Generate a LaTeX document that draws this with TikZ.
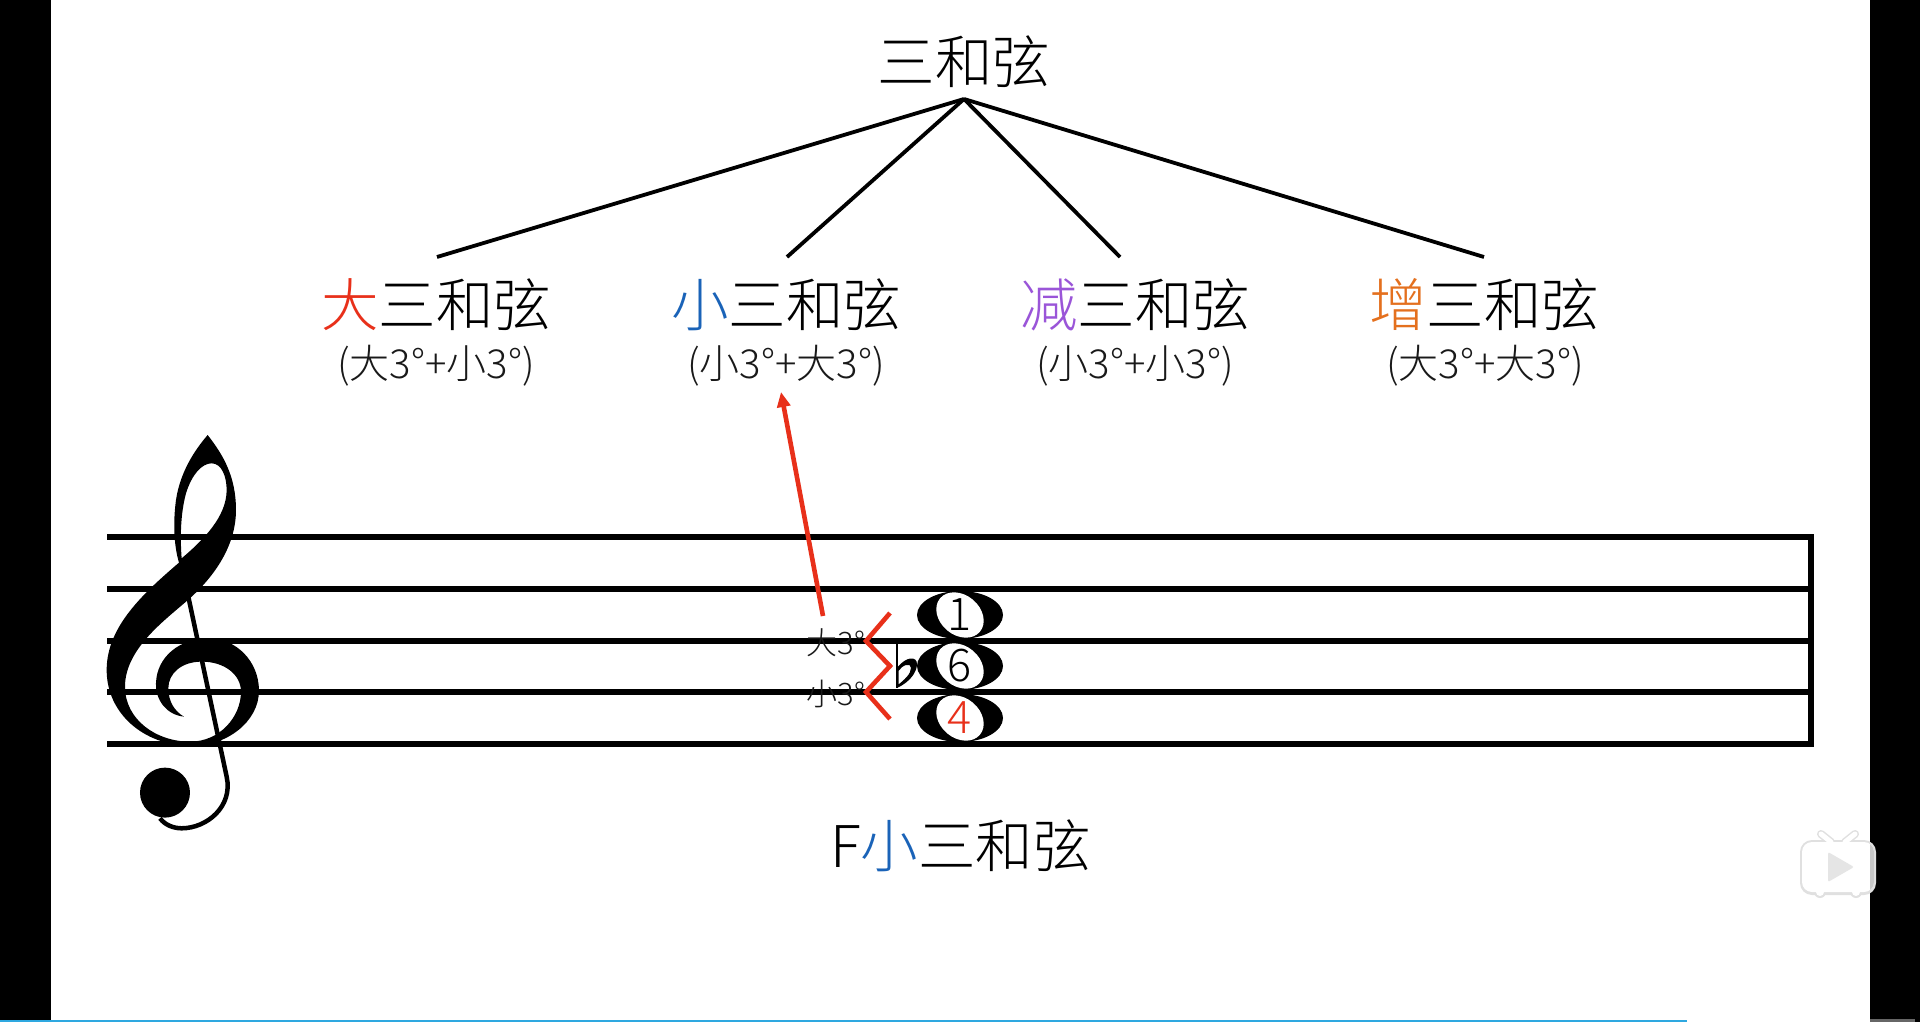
\documentclass[tikz,border=0pt]{standalone}
\usepackage{fontspec}
\setmainfont{Noto Sans CJK SC}[UprightFont={* Light}]
\usetikzlibrary{arrows.meta}
\definecolor{mred}{HTML}{E8301A}
\definecolor{mblue}{HTML}{1A63B8}
\definecolor{mpurple}{HTML}{9A55D8}
\definecolor{morange}{HTML}{E4701E}
\definecolor{cyanbar}{HTML}{2EA8E0}
\tikzset{
 big/.style={inner sep=0pt,font=\fontsize{57.5}{60}\selectfont},
 small/.style={inner sep=0pt,text=black!90,font=\fontsize{40}{44}\selectfont},
 tiny/.style={inner sep=0pt,text=black!90,font=\fontsize{31}{35}\selectfont},
 digit/.style={inner sep=0pt,font=\fontsize{45}{49}\selectfont},
 branch/.style={line width=3.8pt,black},
 staffline/.style={line width=5.5pt,black},
 redline/.style={line width=4.6pt,mred},
}
\newcommand{\notehead}[2]{%
 \fill[black] (#1,#2) ellipse [x radius=43,y radius=24];
 \fill[white,rotate around={-40:(#1,#2)}] (#1,#2) ellipse [x radius=26,y radius=20];
}
\begin{document}
\begin{tikzpicture}[x=1pt,y=-1pt]
\useasboundingbox (0,0) rectangle (1920,1022);
\fill[white] (0,0) rectangle (1920,1022);
\fill[black] (0,0) rectangle (51,1022);
\fill[black] (1870,0) rectangle (1920,1022);
\fill[black!60] (1870,1019) rectangle (1915,1022);
\fill[cyanbar] (0,1019.5) rectangle (1687,1022);
% staff
\coordinate (s1l) at (107,537); \coordinate (s1r) at (1811,537);
\coordinate (s2l) at (107,589); \coordinate (s2r) at (1811,589);
\coordinate (s3l) at (107,641); \coordinate (s3r) at (1811,641);
\coordinate (s4l) at (107,692); \coordinate (s4r) at (1811,692);
\coordinate (s5l) at (107,744); \coordinate (s5r) at (1811,744);
\foreach \i in {1,...,5}{\draw[staffline] (s\i l) -- (s\i r);}
\draw[line width=5.5pt,line cap=rect] (s1r) -- (s5r);
% clef
\begin{scope}[shift={(80,420)},x=0.3333pt,y=-0.3333pt]
 \fill[black,even odd rule]
  (383,45) .. controls (430,105) and (468,170) .. (468,270)
  .. controls (468,380) and (400,470) .. (335,530)
  .. controls (270,590) and (135,680) .. (135,800)
  .. controls (135,900) and (230,965) .. (330,965)
  .. controls (420,965) and (483,890) .. (483,815)
  .. controls (483,765) and (435,725) .. (365,725)
  .. controls (305,725) and (265,760) .. (265,805)
  .. controls (265,845) and (285,875) .. (312,890)
  .. controls (260,885) and (226,840) .. (228,790)
  .. controls (230,710) and (300,655) .. (385,655)
  .. controls (470,655) and (537,725) .. (537,812)
  .. controls (537,905) and (440,980) .. (330,978)
  .. controls (190,975) and (80,880) .. (80,750)
  .. controls (80,620) and (190,520) .. (297,428)
  .. controls (280,370) and (280,300) .. (288,240)
  .. controls (300,160) and (340,95) .. (383,45) -- cycle
  (305,415) .. controls (300,350) and (302,280) .. (318,220)
  .. controls (335,165) and (365,130) .. (395,130)
  .. controls (425,130) and (440,170) .. (440,210)
  .. controls (440,290) and (370,360) .. (305,415) -- cycle;
 \draw[black,line width=4.5pt]
  (325,530) -- (440,1070)
  .. controls (460,1160) and (380,1225) .. (305,1225)
  .. controls (280,1225) and (255,1215) .. (240,1195);
 \fill[black] (255,1118) circle [radius=75];
\end{scope}
% title & branches
\node[big] (title) at (964,62) {三和弦};
\coordinate (root) at (964,99);
\node[big] (maj) at (436,305) {{\color{mred}大}三和弦};
\node[big] (min) at (786,305) {{\color{mblue}小}三和弦};
\node[big] (dim) at (1135,305) {{\color{mpurple}减}三和弦};
\node[big] (aug) at (1484,305) {{\color{morange}增}三和弦};
\coordinate (majtop) at (437,257);
\coordinate (mintop) at (787,257);
\coordinate (dimtop) at (1120,257);
\coordinate (augtop) at (1484,257);
\draw[branch] (root) -- (majtop);
\draw[branch] (root) -- (mintop);
\draw[branch] (root) -- (dimtop);
\draw[branch] (root) -- (augtop);
\node[small] (majf) at (436,366) {(大3°+小3°)};
\node[small] (minf) at (786,366) {(小3°+大3°)};
\node[small] (dimf) at (1135,366) {(小3°+小3°)};
\node[small] (augf) at (1485,366) {(大3°+大3°)};
% red arrow
\coordinate (arrowtail) at (823,616);
\coordinate (arrowhead) at (781,392);
\draw[redline,-{Triangle[length=15pt,width=13pt]}] (arrowtail) -- (arrowhead);
% noteheads
\notehead{960}{615}
\notehead{960}{666}
\notehead{960}{718}
\node[digit] (d1) at (960,615) {1};
\node[digit] (d6) at (960,666) {6};
\node[digit,text=mred] (d4) at (960,718) {4};
% flat
\coordinate (flattop) at (897,641);
\coordinate (flatbot) at (897,688);
\draw[black,line width=1.4pt] (flattop) -- (flatbot);
\fill[black,even odd rule] (897,688) .. controls (910,682) and (917,672) .. (917,664)
 .. controls (917,656) and (906,656) .. (897,668) -- cycle
 (898.5,671) .. controls (902,665) and (911,662) .. (911,668)
 .. controls (911,674) and (904,680) .. (898.5,684.5) -- cycle;
% chevrons
\coordinate (c1) at (890,613); \coordinate (c2) at (866,641);
\coordinate (c3) at (890,666); \coordinate (c4) at (866,692);
\coordinate (c5) at (890,719);
\draw[redline] (c1) -- (c2) -- (c3) -- (c4) -- (c5);
\node[tiny] (int1) at (836,643) {大3°};
\node[tiny] (int2) at (836,694) {小3°};
% chord name
\node[big,anchor=west] (fname) at (830,846) {F{\color{mblue}小}三和弦};
% watermark
\begin{scope}
 \draw[black!12,line width=8pt,line cap=round] (1821,834) -- (1831,842);
 \draw[black!12,line width=8pt,line cap=round] (1855,834) -- (1845,842);
 \fill[black!12,rounded corners=12pt] (1800,840) rectangle (1876,895);
 \fill[black!12] (1820,892) circle [radius=6];
 \fill[black!12] (1856,892) circle [radius=6];
 \draw[white,line width=5pt,line cap=round] (1821,834) -- (1831,842);
 \draw[white,line width=5pt,line cap=round] (1855,834) -- (1845,842);
 \fill[white,rounded corners=10pt] (1802,842) rectangle (1874,892);
 \fill[white] (1820,892) circle [radius=4];
 \fill[white] (1856,892) circle [radius=4];
 \begin{scope}
  \clip (1870,830) rectangle (1880,900);
  \fill[black!22,rounded corners=10pt] (1802,842) rectangle (1874,892);
 \end{scope}
 \fill[black!10,rounded corners=2pt] (1828,852) -- (1854,867) -- (1828,882) -- cycle;
\end{scope}
\end{tikzpicture}
\end{document}
